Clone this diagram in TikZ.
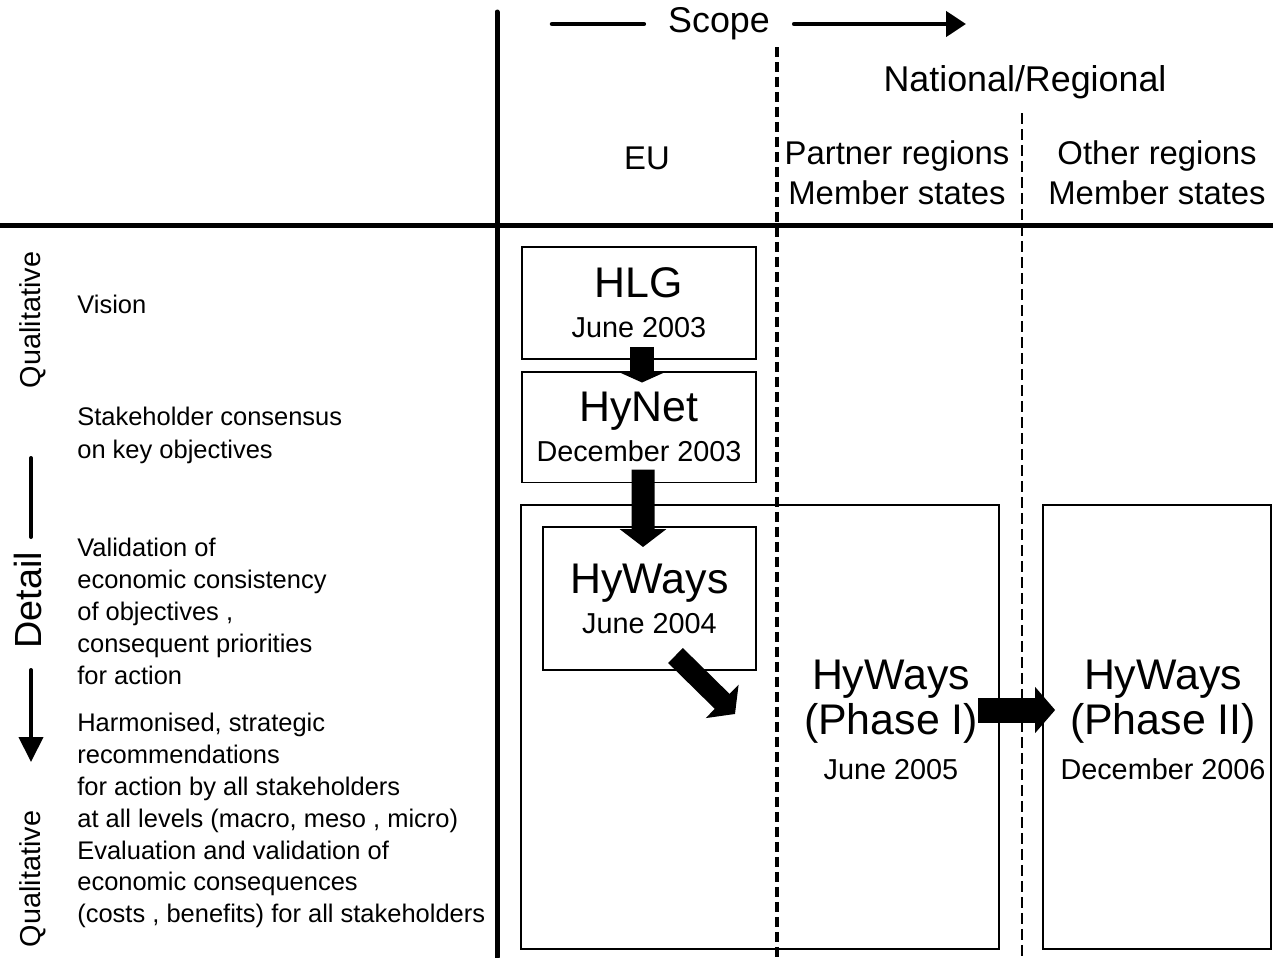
\documentclass[tikz,border=0pt]{standalone}
\usepackage{fontspec}
\setmainfont{Liberation Sans}
\usetikzlibrary{arrows.meta}

\newcommand\datefont{\fontsize{16.4}{22.7}\selectfont}

\tikzset{
  box/.style={draw, line width=0.04cm, align=center, inner sep=0pt,
    font=\fontsize{24.4}{22.7}\selectfont},
  frame/.style={draw, line width=0.04cm, inner sep=0pt, minimum height=8.9cm},
  phaselabel/.style={align=center, inner sep=0pt, font=\fontsize{24.4}{25.5}\selectfont},
  colhead/.style={align=center, inner sep=0pt, font=\fontsize{18.7}{22.7}\selectfont},
  sidetext/.style={anchor=north west, align=left, inner sep=0pt,
    font=\fontsize{14.5}{18.1}\selectfont},
  sidelabel/.style={rotate=90, inner sep=0pt, font=\fontsize{16.4}{20}\selectfont},
  axis/.style={line width=0.1cm},
  scopeline/.style={line width=0.09cm, line cap=round},
  detailline/.style={line width=0.08cm, line cap=round},
  bigdash/.style={line width=0.07cm, dash pattern=on 0.2cm off 0.1cm},
  smalldash/.style={line width=0.03cm, dash pattern=on 0.22cm off 0.1cm},
  fatarrow/.style={line width=0.46cm, -{Triangle[length=0.36cm, width=0.92cm]}},
}

\begin{document}
\begin{tikzpicture}[x=0.02cm, y=-0.02cm]
    \useasboundingbox (0,0) rectangle (1273,957);

    % axes
    \draw[axis, line cap=round] (497,12) -- (497,957);
    \draw[axis] (0,225) -- (1273,225);

    % scope arrow
    \node[colhead, font=\fontsize{20.4}{24}\selectfont, inner xsep=0.48cm] (scope) at (719,24) {Scope};
    \coordinate (s0) at (552,24);
    \coordinate (s1) at (966,24);
    \draw[scopeline] (s0) -- (scope.west);
    \draw[scopeline, -{Triangle[length=0.4cm, width=0.5cm]}] (scope.east) -- (s1);

    % column borders
    \draw[bigdash] (777,47) -- (777,957);
    \draw[smalldash] (1022,113) -- (1022,957);

    % column heads
    \node[colhead, font=\fontsize{20.4}{24}\selectfont] (natreg) at (1025,82) {National/Regional};
    \node[colhead] (eu) at (647,158) {EU};
    \node[colhead] (partner) at (897,173) {Partner regions\\Member states};
    \node[colhead] (other) at (1157,173) {Other regions\\Member states};

    % left side
    \node[sidelabel] (qualtop) at (33,320) {Qualitative};
    \node[sidelabel, font=\fontsize{21.5}{26}\selectfont] (detail) at (28,600) {Detail};
    \node[sidelabel] (qualbot) at (33,879) {Qualitative};
    \coordinate (dtop) at (31,458);
    \coordinate (dbot) at (31,762);
    \draw[detailline] (dtop) -- (31,537);
    \draw[detailline, -{Triangle[length=0.5cm, width=0.48cm]}] (31,670) -- (dbot);

    \node[sidetext] (vision) at (77,295) {Vision};
    \node[sidetext, font=\fontsize{14.5}{18.7}\selectfont] (consensus) at (77,407)
      {Stakeholder consensus\\on key objectives};
    \node[sidetext] (validation) at (77,538)
      {Validation of\\economic consistency\\of objectives ,\\consequent priorities\\for action};
    \node[sidetext] (harmonised) at (77,713)
      {Harmonised, strategic\\recommendations\\for action by all stakeholders\\at all levels (macro, meso , micro)\\Evaluation and validation of\\economic consequences\\(costs , benefits) for all stakeholders};

    % boxes
    \node[frame, minimum width=9.56cm] (euframe) at (760,727) {};
    \node[frame, minimum width=4.56cm] (otherframe) at (1157,727) {};
    \node[box, minimum width=4.68cm, minimum height=2.24cm] (hlg) at (639,303)
      {HLG\\{\datefont June 2003}};
    \node[box, minimum width=4.68cm, minimum height=2.22cm] (hynet) at (639,427)
      {HyNet\\{\datefont December 2003}};
    \node[box, minimum width=4.26cm, minimum height=2.86cm] (hyways) at (649.5,598.5)
      {HyWays\\{\datefont June 2004}};

    \node[phaselabel] (phaseone) at (891,720) {HyWays\\(Phase I)\\{\datefont June 2005}};
    \node[phaselabel] (phasetwo) at (1163,720) {HyWays\\(Phase II)\\{\datefont December 2006}};

    % block arrows
    \draw[fatarrow, line width=0.48cm, -{Triangle[length=0.2cm, width=0.88cm]}]
      ([xshift=0.06cm, yshift=0.26cm]hlg.south) -- ([xshift=0.06cm, yshift=-0.24cm]hynet.north);
    \draw[fatarrow]
      ([xshift=0.08cm, yshift=0.28cm]hynet.south) -- ([xshift=-0.13cm, yshift=-0.42cm]hyways.north);
    \draw[fatarrow, line width=0.42cm]
      ([xshift=-1.63cm, yshift=0.31cm]hyways.south east) -- ([xshift=-0.44cm, yshift=-0.86cm]hyways.south east);
    \draw[fatarrow, line width=0.5cm, -{Triangle[length=0.4cm, width=0.9cm]}]
      ([yshift=0.2cm]phaseone.east) -- ([xshift=-0.1cm, yshift=0.2cm]phasetwo.west);
\end{tikzpicture}
\end{document}
